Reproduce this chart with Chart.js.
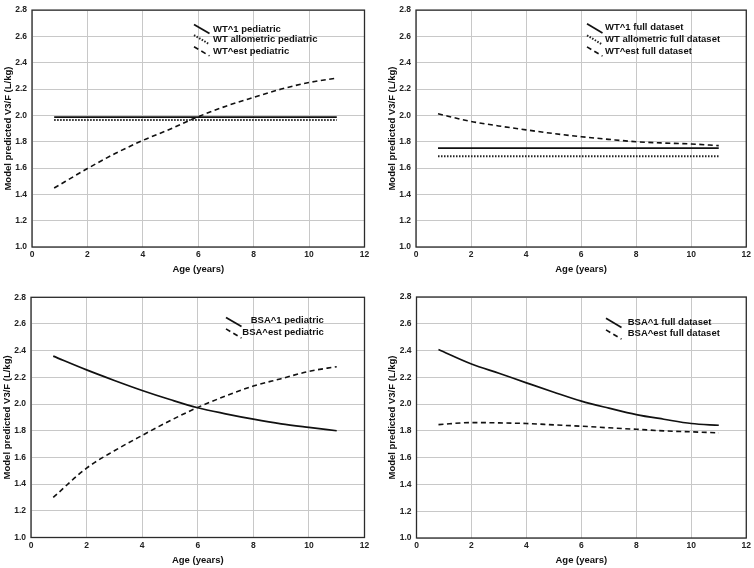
<!DOCTYPE html>
<html>
<head>
<meta charset="utf-8">
<script src="https://cdn.jsdelivr.net/npm/chart.js@4.4.1/dist/chart.umd.min.js"></script>
<style>
    html, body { margin: 0; padding: 0; background: #fff; }
    .panel { position: absolute; width: 377px; height: 284px; }
</style>
</head>
<body>
<div class="panel" style="left:0;top:0"><canvas id="p1" width="377" height="284"></canvas></div>
<div class="panel" style="left:377px;top:0"><canvas id="p2" width="377" height="284"></canvas></div>
<div class="panel" style="left:0;top:284px"><canvas id="p3" width="377" height="284"></canvas></div>
<div class="panel" style="left:377px;top:284px"><canvas id="p4" width="377" height="284"></canvas></div>
<script>
// ---- data ----
const ages = [0.8, 2, 3, 4, 5, 6, 7, 8, 9, 10, 11];
const flatAges = [0.8, 11];
const xTicks = [0, 2, 4, 6, 8, 10, 12];
const yTicks = [1.0, 1.2, 1.4, 1.6, 1.8, 2.0, 2.2, 2.4, 2.6, 2.8];

// top left: pediatric, weight based
const wt1Ped = [1.987, 1.987];
const wtAlloPed = [1.965, 1.965];
const wtEstPed = [1.448, 1.596, 1.71, 1.81, 1.897, 1.99, 2.07, 2.137, 2.2, 2.25, 2.284];

// top right: full dataset, weight based
const wt1Full = [1.751, 1.751];
const wtAlloFull = [1.689, 1.689];
const wtEstFull = [2.012, 1.954, 1.92, 1.89, 1.862, 1.838, 1.818, 1.80, 1.79, 1.783, 1.77];

// bottom left: pediatric, BSA based
const bsa1Ped = [2.359, 2.256, 2.177, 2.102, 2.034, 1.972, 1.927, 1.887, 1.852, 1.825, 1.80];
const bsaEstPed = [1.30, 1.52, 1.65, 1.765, 1.875, 1.975, 2.06, 2.135, 2.19, 2.245, 2.28];

// bottom right: full dataset, BSA based
const bsa1Full = [2.408, 2.30, 2.23, 2.159, 2.089, 2.022, 1.97, 1.922, 1.887, 1.855, 1.842];
const bsaEstFull = [1.847, 1.862, 1.86, 1.855, 1.845, 1.835, 1.823, 1.812, 1.80, 1.793, 1.785];

// ---- styling ----
const FONT = '"Liberation Sans", Arial, sans-serif';
const lineStyles = {
    solid:  { borderDash: [],         borderWidth: 1.7, borderColor: "#111" },
    dotted: { borderDash: [1.5, 1.5], borderWidth: 2,   borderColor: "#222" },
    dashed: { borderDash: [5, 3.5],   borderWidth: 1.6, borderColor: "#111" }
};

function series(label, xs, ys, style) {
    return Object.assign({
        label: label,
        data: xs.map((x, i) => ({ x: x, y: ys[i] })),
        pointRadius: 0,
        fill: false,
        cubicInterpolationMode: "monotone",
        styleKey: style
    }, lineStyles[style]);
}

// frame around the plot + hand drawn key with slanted samples
const frameAndKey = {
    id: "frameAndKey",
    afterDatasetsDraw(chart, args, opts) {
        const { ctx, chartArea: a } = chart;
        ctx.save();
        ctx.strokeStyle = "#2b2b2b";
        ctx.lineWidth = 1.3;
        ctx.setLineDash([]);
        ctx.strokeRect(a.left, a.top, a.right - a.left, a.bottom - a.top);

        ctx.font = "bold 9.5px " + FONT;
        ctx.textBaseline = "middle";
        ctx.fillStyle = "#111";
        chart.data.datasets.forEach((ds, i) => {
            const r = opts.rows[i];
            if (!r) return;
            const st = lineStyles[ds.styleKey];
            ctx.strokeStyle = st.borderColor;
            ctx.lineWidth = st.borderWidth;
            ctx.setLineDash(st.borderDash);
            ctx.beginPath();
            ctx.moveTo(r.lx, r.ly - 4.6);
            ctx.lineTo(r.lx + 15.5, r.ly + 4.6);
            ctx.stroke();
            ctx.fillText(ds.label, r.tx, r.ty);
        });
        ctx.restore();
    }
};

function makePanel(id, datasets, box) {
    const Y_W = 31;
    new Chart(document.getElementById(id), {
        type: "line",
        data: { datasets: datasets },
        plugins: [frameAndKey],
        options: {
            responsive: false,
            animation: false,
            layout: {
                padding: { left: box.left - Y_W, right: 377 - box.right, top: box.top, bottom: 0 }
            },
            plugins: {
                legend: { display: false },
                tooltip: { enabled: false },
                frameAndKey: { rows: box.rows }
            },
            scales: {
                x: {
                    type: "linear",
                    min: 0, max: 12,
                    afterBuildTicks: s => { s.ticks = xTicks.map(v => ({ value: v })); },
                    afterFit: s => { s.height = 284 - box.bottom; },
                    grid: { color: "#c8c8c8", lineWidth: 1, drawTicks: false },
                    border: { display: false },
                    ticks: { padding: 3, color: "#222", font: { family: FONT, size: 8.5, weight: "bold" } },
                    title: {
                        display: true, text: "Age (years)", color: "#111",
                        padding: { top: 0, bottom: box.xTitlePad },
                        font: { family: FONT, size: 9.5, weight: "bold" }
                    }
                },
                y: {
                    min: 1.0, max: 2.8,
                    afterBuildTicks: s => { s.ticks = yTicks.map(v => ({ value: v })); },
                    afterFit: s => { s.width = Y_W; },
                    grid: { color: "#c8c8c8", lineWidth: 1, drawTicks: false },
                    border: { display: false },
                    ticks: {
                        padding: 5, color: "#222",
                        font: { family: FONT, size: 8.5, weight: "bold" },
                        callback: v => v.toFixed(1)
                    },
                    title: {
                        display: true, text: "Model predicted V3/F (L/kg)", color: "#111",
                        padding: { top: 1.3, bottom: 0 },
                        font: { family: FONT, size: 9.5, weight: "bold" }
                    }
                }
            }
        }
    });
}

makePanel("p1", [
    series("WT^1 pediatric", flatAges, wt1Ped, "solid"),
    series("WT allometric pediatric", flatAges, wtAlloPed, "dotted"),
    series("WT^est pediatric", ages, wtEstPed, "dashed")
], { left: 32, right: 364.5, top: 6, bottom: 247, xTitlePad: 9,
     rows: [{ lx: 194, ly: 29, tx: 213, ty: 29.3 },
            { lx: 194, ly: 39.7, tx: 213, ty: 39.7 },
            { lx: 194, ly: 51.3, tx: 213, ty: 51 }] });

makePanel("p2", [
    series("WT^1 full dataset", flatAges, wt1Full, "solid"),
    series("WT allometric full dataset", flatAges, wtAlloFull, "dotted"),
    series("WT^est full dataset", ages, wtEstFull, "dashed")
], { left: 39, right: 371, top: 5, bottom: 247, xTitlePad: 9,
     rows: [{ lx: 210, ly: 28.3, tx: 228, ty: 27 },
            { lx: 210, ly: 40, tx: 228, ty: 39.7 },
            { lx: 210, ly: 51.5, tx: 228, ty: 51.5 }] });

makePanel("p3", [
    series("BSA^1 pediatric", ages, bsa1Ped, "solid"),
    series("BSA^est pediatric", ages, bsaEstPed, "dashed")
], { left: 31, right: 364.5, top: 13.3, bottom: 253.5, xTitlePad: 1.6,
     rows: [{ lx: 226, ly: 38, tx: 250.7, ty: 36.7 },
            { lx: 226, ly: 49.5, tx: 242.3, ty: 48.3 }] });

makePanel("p4", [
    series("BSA^1 full dataset", ages, bsa1Full, "solid"),
    series("BSA^est full dataset", ages, bsaEstFull, "dashed")
], { left: 39.5, right: 371, top: 13, bottom: 254, xTitlePad: 1.6,
     rows: [{ lx: 229, ly: 38.8, tx: 250.7, ty: 38.3 },
            { lx: 229, ly: 50.5, tx: 250.7, ty: 49.3 }] });
</script>
</body>
</html>
